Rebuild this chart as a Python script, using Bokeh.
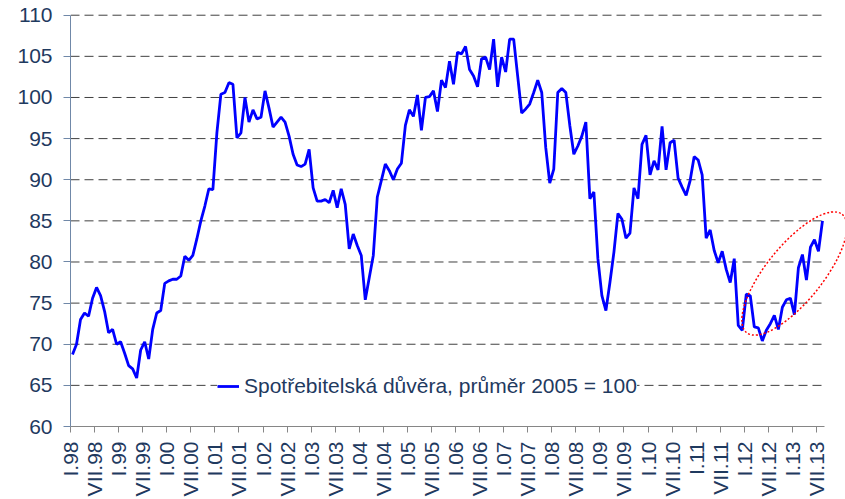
import math
from bokeh.plotting import figure
from bokeh.models import Range1d, FixedTicker, ColumnDataSource
from bokeh.embed import file_html
from bokeh.resources import INLINE

# Consumer confidence index, monthly, I.1998 - VIII.2013 (average 2005 = 100)
values = [
    68.75, 70.0, 73.0, 73.8, 73.4, 75.6, 76.9, 75.9, 74.0, 71.4, 71.8, 70.0,   # 1998
    70.3, 68.9, 67.4, 67.0, 65.9, 69.3, 70.3, 68.2, 71.8, 73.8, 74.1, 77.4,    # 1999
    77.7, 77.9, 77.9, 78.3, 80.7, 80.2, 80.8, 82.8, 85.0, 86.8, 88.9, 88.8,    # 2000
    95.7, 100.4, 100.6, 101.8, 101.6, 95.1, 95.7, 100.0, 97.0, 98.5, 97.4, 97.6,  # 2001
    100.8, 98.7, 96.4, 97.0, 97.6, 97.0, 95.3, 93.1, 91.8, 91.6, 91.9, 93.7,   # 2002
    89.0, 87.4, 87.4, 87.6, 87.2, 88.7, 86.6, 88.9, 87.0, 81.6, 83.4, 82.0,    # 2003
    80.8, 75.4, 78.1, 80.8, 87.9, 89.9, 91.9, 91.1, 90.0, 91.3, 92.0, 96.6,    # 2004
    98.5, 97.7, 100.3, 96.0, 100.0, 100.1, 100.8, 98.3, 102.1, 101.2, 104.4, 101.6,  # 2005
    105.5, 105.3, 106.2, 103.4, 102.6, 101.3, 104.7, 104.9, 103.4, 107.1, 101.3, 104.9,  # 2006
    103.1, 107.1, 107.1, 102.6, 98.1, 98.6, 99.2, 100.6, 102.1, 100.6, 93.9, 89.6,  # 2007
    91.3, 100.6, 101.1, 100.6, 96.6, 93.1, 94.1, 95.3, 97.0, 87.7, 88.5, 80.4,  # 2008
    75.9, 74.1, 77.5, 81.2, 85.9, 85.2, 82.9, 83.5, 89.0, 87.7, 94.3, 95.4,    # 2009
    90.6, 92.3, 91.2, 96.5, 91.2, 94.5, 94.8, 90.2, 89.1, 88.1, 89.9, 92.8,    # 2010
    92.4, 90.6, 82.9, 83.9, 81.4, 79.9, 81.3, 79.1, 77.5, 80.4, 72.3, 71.7,    # 2011
    76.1, 75.9, 72.1, 72.0, 70.4, 71.7, 72.5, 73.5, 71.8, 74.5, 75.4, 75.6,    # 2012
    73.6, 79.3, 80.9, 77.8, 81.8, 82.7, 81.3, 85.0,                            # 2013
]
years = ["98", "99", "00", "01", "02", "03", "04", "05",
         "06", "07", "08", "09", "10", "11", "12", "13"]
tick_labels = []
for yy in years:
    tick_labels += ["I." + yy, "VII." + yy]
y_ticks = [60, 65, 70, 75, 80, 85, 90, 95, 100, 105, 110]
grid_levels = [65, 70, 75, 80, 85, 90, 95, 100, 105, 110]
series_name = "Spotřebitelská důvěra, průměr 2005 = 100"
# highlighted region (recent recovery) - ellipse centre in data coordinates
highlight_month = [180.5]
highlight_value = [78.6]

FONT = "Liberation Sans"
TEXT_COLOR = "#1F3A5F"

n = len(values)
months = [i + 0.5 for i in range(n)]
tick_pos = [6 * k for k in range(len(tick_labels))]

p = figure(width=845, height=499, output_backend="svg", toolbar_location=None,
           x_range=Range1d(0, 193.24), y_range=Range1d(60, 110.33),
           min_border_left=70, min_border_right=0, min_border_top=12,
           min_border_bottom=69)
p.outline_line_color = None
p.xgrid.visible = False
p.ygrid.visible = False

# dashed horizontal gridlines limited to the data span
gsrc = ColumnDataSource(dict(x0=[0] * len(grid_levels), x1=[n] * len(grid_levels),
                             y=grid_levels))
p.segment(x0="x0", y0="y", x1="x1", y1="y", source=gsrc,
          line_color="#404040", line_width=1, line_dash="9 5")

line = p.line(months, values, line_color="#0000FF", line_width=2.8,
              legend_label=series_name)

p.ellipse(x=highlight_month, y=highlight_value, width=152, height=56,
          angle=math.radians(51), width_units="screen", height_units="screen",
          fill_color=None, line_color="#FF0000", line_width=1.5, line_dash="2 2")

# y axis
ya = p.yaxis[0]
ya.ticker = FixedTicker(ticks=y_ticks)
ya.bounds = (60, 110)
ya.axis_line_color = "#7088A8"
ya.major_tick_line_color = "#7088A8"
ya.major_tick_out = 7
ya.major_tick_in = 0
ya.minor_tick_line_color = None
ya.major_label_standoff = 11
ya.major_label_text_font = FONT
ya.major_label_text_font_size = "21px"
ya.major_label_text_color = TEXT_COLOR

# x axis
xa = p.xaxis[0]
xa.ticker = FixedTicker(ticks=tick_pos)
xa.major_label_overrides = {pos: lab for pos, lab in zip(tick_pos, tick_labels)}
xa.bounds = (0, n)
xa.axis_line_color = "#868686"
xa.major_tick_line_color = "#868686"
xa.major_tick_out = 6
xa.major_tick_in = 0
xa.minor_tick_line_color = None
xa.major_label_orientation = math.pi / 2
xa.major_label_standoff = 9
xa.major_label_text_font = FONT
xa.major_label_text_font_size = "21px"
xa.major_label_text_color = TEXT_COLOR

lg = p.legend[0]
lg.location = (147, 28)
lg.padding = 5
lg.spacing = 0
lg.margin = 0
lg.glyph_width = 22
lg.label_standoff = 5
lg.border_line_color = None
lg.background_fill_color = "white"
lg.background_fill_alpha = 1.0
lg.label_text_font = FONT
lg.label_text_font_size = "21px"
lg.label_text_color = TEXT_COLOR

open("out.html", "w").write(file_html(p, INLINE))
